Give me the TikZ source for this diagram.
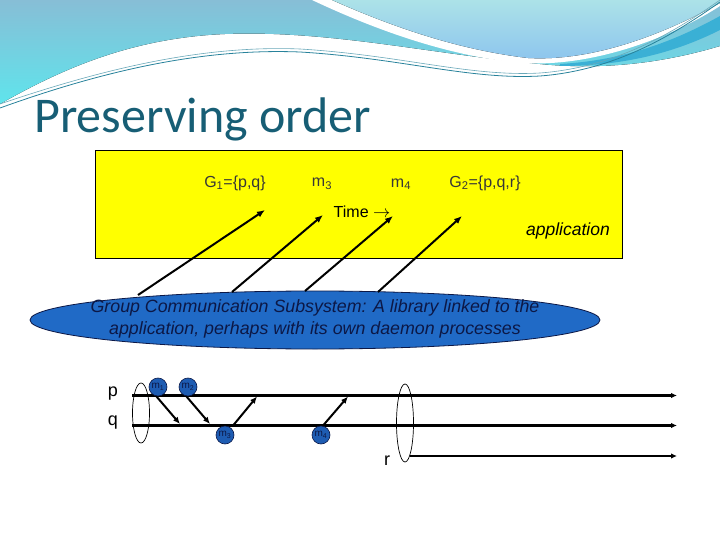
\documentclass[tikz,border=0pt]{standalone}
\usepackage{fontspec}
\setmainfont{Liberation Sans}
\newfontfamily\titlefont{Carlito}
\usetikzlibrary{arrows.meta,shapes.geometric}
\definecolor{titleteal}{RGB}{23,94,117}
\definecolor{hdtop}{RGB}{135,190,214}
\definecolor{hdbot}{RGB}{95,228,236}
\definecolor{bubtop}{RGB}{172,226,232}
\definecolor{bubbot}{RGB}{140,196,238}
\definecolor{swoosh}{RGB}{58,176,213}
\definecolor{thinteal}{RGB}{40,130,155}
\definecolor{gcsblue}{RGB}{32,106,198}
\definecolor{navy}{RGB}{12,24,70}
\definecolor{labgray}{RGB}{55,55,55}
\definecolor{msgblue}{RGB}{30,92,178}
\definecolor{appyellow}{RGB}{255,255,0}
\begin{document}
\begin{tikzpicture}[x=1bp,y=-1bp,
  lab/.style={text=labgray,font=\fontsize{16bp}{18bp}\selectfont,inner sep=0},
  uparrow/.style={line width=2bp,-{Latex[length=8bp,width=6.5bp]}},
  tline/.style={line width=2.6bp,-{Latex[length=6bp,width=5.5bp]}},
  marrow/.style={line width=2bp,-{Latex[length=7bp,width=6bp]}},
  msg/.style={circle,draw=navy,line width=0.6bp,fill=msgblue,minimum size=18bp,inner sep=0,
    text=navy,font=\fontsize{10bp}{10bp}\selectfont},
  grp/.style={draw=black,line width=0.7bp,ellipse,inner sep=0,minimum width=17bp},
  plabel/.style={inner sep=0,font=\fontsize{18bp}{18bp}\selectfont}]
\useasboundingbox (0,0) rectangle (720,540);
% header decoration
\fill[top color=hdtop,bottom color=hdbot] (0,0) -- (720,0) -- (720,46)
  .. controls (660,64) and (600,70) .. (540,64)
  .. controls (430,54) and (330,30) .. (225,34)
  .. controls (130,38) and (60,70) .. (0,104) -- cycle;
\fill[white] (312,0) .. controls (380,32) and (450,56) .. (520,63)
  .. controls (600,68) and (680,32) .. (720,6) -- (720,0) -- cycle;
\fill[top color=bubtop,bottom color=bubbot] (332,0) .. controls (395,28) and (460,50) .. (528,58)
  .. controls (600,62) and (675,28) .. (720,3) -- (720,0) -- cycle;
\fill[swoosh] (560,64) .. controls (630,60) and (680,38) .. (720,16) -- (720,30)
  .. controls (680,50) and (630,66) .. (560,66) -- cycle;
\draw[thinteal,line width=0.8bp] (0,108) .. controls (100,72) and (200,48) .. (300,52)
  .. controls (400,58) and (470,80) .. (540,76) .. controls (620,70) and (680,30) .. (720,2);
\draw[thinteal!70,line width=0.6bp] (0,104) .. controls (100,70) and (200,45) .. (300,49)
  .. controls (400,55) and (470,77) .. (540,73) .. controls (620,67) and (680,28) .. (720,0);
% title
\node[anchor=base west,inner sep=0,text=titleteal,font=\titlefont\fontsize{50bp}{50bp}\selectfont] (title) at (34,133) {Preserving order};
% application box
\node[draw=black,line width=0.7bp,fill=appyellow,anchor=north west,minimum width=527bp,minimum height=108bp,inner sep=0] (app) at (95,150) {};
\node[lab] (g1) at (235,183) {G\textsubscript{1}=\{p,q\}};
\node[lab] (m3t) at (322,184) {m\textsubscript{3}};
\node[lab] (m4t) at (401,184) {m\textsubscript{4}};
\node[lab] (g2) at (485,183) {G\textsubscript{2}=\{p,q,r\}};
\node[inner sep=0,font=\fontsize{16bp}{18bp}\selectfont] (time) at (362,212) {Time $\rightarrow$};
\node[inner sep=0,font=\fontsize{17.5bp}{18bp}\selectfont\itshape] (appl) at (568,231) {application};
% group communication subsystem
\node[ellipse,draw=navy,line width=0.8bp,fill=gcsblue,minimum width=570bp,minimum height=58bp,inner sep=0] (gcs) at (315,320) {};
\node[align=center,inner sep=0,text=navy,font=\fontsize{17.8bp}{22bp}\selectfont\itshape] (gcst) at (315,319)
  {Group Communication Subsystem: A library linked to the\\application, perhaps with its own daemon processes};
% arrows up to the application
\coordinate (a1s) at (138,295); \coordinate (a1e) at (265,210);
\coordinate (a2s) at (232,292); \coordinate (a2e) at (323,215);
\coordinate (a3s) at (305,291); \coordinate (a3e) at (393,216);
\coordinate (a4s) at (378,292); \coordinate (a4e) at (462,216);
\draw[uparrow] (a1s) -- (a1e);
\draw[uparrow] (a2s) -- (a2e);
\draw[uparrow] (a3s) -- (a3e);
\draw[uparrow] (a4s) -- (a4e);
% process timelines
\node[plabel] (p) at (113,394) {p};
\node[plabel] (q) at (113,423) {q};
\node[plabel] (r) at (387,461) {r};
\coordinate (ps) at (132,395.5); \coordinate (pe) at (677,395.5);
\coordinate (qs) at (132,425.5); \coordinate (qe) at (677,425.5);
\coordinate (rs) at (410,456); \coordinate (re) at (677,456);
\draw[tline] (ps) -- (pe);
\draw[tline] (qs) -- (qe);
\draw[tline] (rs) -- (re);
\node[grp,minimum height=60bp] (view1) at (141,413) {};
\node[grp,minimum height=78bp] (view2) at (405,423) {};
% messages
\coordinate (m1s) at (156.5,396.5); \coordinate (m1e) at (180,424);
\coordinate (m2s) at (186.5,396.5); \coordinate (m2e) at (210,424);
\coordinate (m3s) at (233.5,425); \coordinate (m3e) at (257,396.5);
\coordinate (m4s) at (323.5,425); \coordinate (m4e) at (348,396.5);
\draw[marrow] (m1s) -- (m1e);
\draw[marrow] (m2s) -- (m2e);
\draw[marrow] (m3s) -- (m3e);
\draw[marrow] (m4s) -- (m4e);
\node[msg] (m1) at (158,387) {m\textsubscript{1}};
\node[msg] (m2) at (188,387) {m\textsubscript{2}};
\node[msg] (m3) at (225,435) {m\textsubscript{3}};
\node[msg] (m4) at (321,435) {m\textsubscript{4}};
\end{tikzpicture}
\end{document}
